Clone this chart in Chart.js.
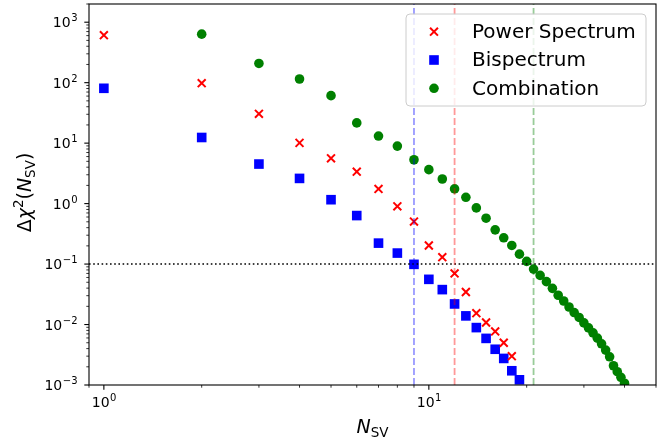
<!DOCTYPE html>
<html>
<head>
<meta charset="utf-8">
<title>Delta chi^2 vs N_SV</title>
<script src="https://cdn.jsdelivr.net/npm/chart.js"></script>
<style>
  html, body { margin: 0; padding: 0; background: #fff; }
  #wrap { width: 660px; height: 440px; }
</style>
</head>
<body>
<div id="wrap"><canvas id="chiChart" width="660" height="440"></canvas></div>
<script>
// number of singular values kept, and delta chi^2 for each probe
const nPower = [1, 2, 3, 4, 5, 6, 7, 8, 9, 10, 11, 12, 13, 14, 15, 16, 17, 18];
const chiPower = [611, 98, 30.5, 10.1, 5.6, 3.37, 1.75, 0.90, 0.505, 0.203, 0.130, 0.070,
                  0.0345, 0.0154, 0.0108, 0.0077, 0.0050, 0.0030];

const nBispec = [1, 2, 3, 4, 5, 6, 7, 8, 9, 10, 11, 12, 13, 14, 15, 16, 17, 18, 19];
const chiBispec = [80.7, 12.4, 4.51, 2.61, 1.16, 0.634, 0.222, 0.152, 0.099, 0.0559, 0.0378,
                   0.0219, 0.0139, 0.0089, 0.0059, 0.0039, 0.00275, 0.00172, 0.00122];

const nComb = [2, 3, 4, 5, 6, 7, 8, 9, 10, 11, 12, 13, 14, 15, 16, 17, 18, 19, 20, 21,
               22, 23, 24, 25, 26, 27, 28, 29, 30, 31, 32, 33, 34, 35, 36, 37, 38, 39, 40];
const chiComb = [634, 208, 115, 61, 21.6, 13.1, 8.93, 5.31, 3.64, 2.55, 1.75, 1.27, 0.849,
                 0.573, 0.368, 0.272, 0.203, 0.146, 0.111, 0.0825, 0.065, 0.0512, 0.0397,
                 0.0305, 0.0245, 0.0195, 0.0158, 0.0131, 0.01065, 0.0088, 0.00728, 0.00595,
                 0.0048, 0.00378, 0.00293, 0.00208, 0.00166, 0.00134, 0.00107];

// threshold and the N_SV where each probe drops below it
const threshold = 0.1;
const cutoffN = [9, 12, 21];
const cutoffColors = ['rgba(0,0,255,0.4)', 'rgba(255,0,0,0.4)', 'rgba(0,128,0,0.4)'];

const xLim = [0.9, 50];
const yLim = [1e-3, 2e3];
const xMajor = [1, 10];
const yMajor = [1e-3, 1e-2, 1e-1, 1, 10, 100, 1000];

const FONT = "'DejaVu Sans', 'Liberation Sans', sans-serif";

const pts = (xs, ys) => xs.map((x, i) => ({ x: x, y: ys[i] }));

// exponent text for a power of ten, with a real minus sign
const expText = v => String(Math.round(Math.log10(v))).replace('-', '\u2212');

const scatterSets = [
  { label: 'Power Spectrum', data: pts(nPower, chiPower), pointStyle: 'crossRot',
    pointRadius: 5.6, borderColor: '#ff0000', backgroundColor: '#ff0000', borderWidth: 2 },
  { label: 'Bispectrum', data: pts(nBispec, chiBispec), pointStyle: 'rect',
    pointRadius: 6.8, borderColor: '#0000ff', backgroundColor: '#0000ff', borderWidth: 0 },
  { label: 'Combination', data: pts(nComb, chiComb), pointStyle: 'circle',
    pointRadius: 4.8, borderColor: '#008000', backgroundColor: '#008000', borderWidth: 0 }
];
scatterSets.forEach(d => { d.order = 1; d.showLine = false; });

const refLines = cutoffN.map((n, i) => ({
  type: 'line', label: 'cut' + i, data: [{ x: n, y: yLim[0] }, { x: n, y: yLim[1] }],
  borderColor: cutoffColors[i], borderWidth: 1.8, borderDash: [7, 3],
  pointRadius: 0, fill: false, order: 0
}));
refLines.push({
  type: 'line', label: 'threshold', data: [{ x: xLim[0], y: threshold }, { x: xLim[1], y: threshold }],
  borderColor: '#000', borderWidth: 1.6, borderDash: [1.6, 2.6],
  pointRadius: 0, fill: false, order: 0
});

// minor tick values inside a log range
function minorTicks(lo, hi) {
  const out = [];
  for (let e = Math.floor(Math.log10(lo)); e <= Math.ceil(Math.log10(hi)); e++) {
    for (let m = 2; m <= 9; m++) {
      const v = m * Math.pow(10, e);
      if (v >= lo && v <= hi) out.push(v);
    }
  }
  return out;
}

function drawMarker(ctx, style, color, x, y) {
  ctx.save();
  ctx.fillStyle = color;
  ctx.strokeStyle = color;
  if (style === 'crossRot') {
    const o = 5.6 * Math.SQRT1_2;
    ctx.lineWidth = 2;
    ctx.beginPath();
    ctx.moveTo(x - o, y - o); ctx.lineTo(x + o, y + o);
    ctx.moveTo(x - o, y + o); ctx.lineTo(x + o, y - o);
    ctx.stroke();
  } else if (style === 'rect') {
    const s = 6.8 * Math.SQRT1_2;
    ctx.fillRect(x - s, y - s, 2 * s, 2 * s);
  } else {
    ctx.beginPath();
    ctx.arc(x, y, 4.8, 0, Math.PI * 2);
    ctx.fill();
  }
  ctx.restore();
}

const TICK_FONT = '14px ' + FONT, EXP_FONT = '10px ' + FONT;

// draws "10" with a raised exponent; align is 'right' or 'center' around x
function drawPow(ctx, v, x, baseY, align) {
  ctx.font = TICK_FONT; const wb = ctx.measureText('10').width;
  const e = expText(v);
  ctx.font = EXP_FONT; const we = ctx.measureText(e).width;
  const start = align === 'right' ? x - wb - we : x - (wb + we) / 2;
  ctx.font = TICK_FONT; ctx.fillText('10', start, baseY);
  ctx.font = EXP_FONT; ctx.fillText(e, start + wb + 0.5, baseY - 6);
}

// frame, tick marks, tick labels and axis titles
const axesDecor = {
  id: 'axesDecor',
  afterDatasetsDraw(chart) {
    const { ctx, chartArea: a, scales } = chart;
    const xs = scales.x, ys = scales.y;
    ctx.save();
    ctx.strokeStyle = '#000';

    ctx.lineWidth = 1.1;
    xMajor.forEach(v => {
      const px = xs.getPixelForValue(v);
      ctx.beginPath(); ctx.moveTo(px, a.bottom); ctx.lineTo(px, a.bottom + 4.7); ctx.stroke();
    });
    yMajor.forEach(v => {
      const py = ys.getPixelForValue(v);
      ctx.beginPath(); ctx.moveTo(a.left, py); ctx.lineTo(a.left - 4.7, py); ctx.stroke();
    });
    ctx.lineWidth = 0.8;
    minorTicks(xLim[0], xLim[1]).forEach(v => {
      const px = xs.getPixelForValue(v);
      ctx.beginPath(); ctx.moveTo(px, a.bottom); ctx.lineTo(px, a.bottom + 2.7); ctx.stroke();
    });
    minorTicks(yLim[0], yLim[1]).forEach(v => {
      const py = ys.getPixelForValue(v);
      ctx.beginPath(); ctx.moveTo(a.left, py); ctx.lineTo(a.left - 2.7, py); ctx.stroke();
    });

    ctx.lineWidth = 1.1;
    ctx.strokeRect(a.left, a.top, a.right - a.left, a.bottom - a.top);

    ctx.fillStyle = '#000';
    ctx.textBaseline = 'alphabetic';
    ctx.textAlign = 'left';

    // tick labels
    yMajor.forEach(v => drawPow(ctx, v, a.left - 12, ys.getPixelForValue(v) + 5, 'right'));
    xMajor.forEach(v => drawPow(ctx, v, xs.getPixelForValue(v), a.bottom + 21.5, 'center'));

    // x title: N_SV
    const big = '19px ' + FONT, bigIt = 'italic 19px ' + FONT, small = '13.5px ' + FONT;
    ctx.font = bigIt; const wN = ctx.measureText('N').width;
    ctx.font = small; const wSV = ctx.measureText('SV').width;
    let x0 = (a.left + a.right) / 2 - (wN + wSV) / 2;
    const by = 433;
    ctx.font = bigIt; ctx.fillText('N', x0, by);
    ctx.font = small; ctx.fillText('SV', x0 + wN, by + 4);

    // y title: delta chi^2 (N_SV), rotated
    const parts = [
      { t: '\u0394', f: big, dy: 0 },
      { t: '\u03C7', f: bigIt, dy: 0 },
      { t: '2', f: small, dy: -8 },
      { t: '(', f: big, dy: 0 },
      { t: 'N', f: bigIt, dy: 0 },
      { t: 'SV', f: small, dy: 4 },
      { t: ')', f: big, dy: 0 }
    ];
    let total = 0;
    parts.forEach(p => { ctx.font = p.f; p.w = ctx.measureText(p.t).width; total += p.w; });
    ctx.translate(31, (a.top + a.bottom) / 2 - 2);
    ctx.rotate(-Math.PI / 2);
    let cx = -total / 2;
    parts.forEach(p => { ctx.font = p.f; ctx.fillText(p.t, cx, p.dy); cx += p.w; });
    ctx.restore();
  },
  afterDraw(chart) {
    // legend box in the upper right corner
    const { ctx, chartArea: a } = chart;
    const bx = a.right - 10, by = a.top + 10, bw = 240, bh = 92, r = 4;
    const left = bx - bw;
    ctx.save();
    ctx.beginPath();
    ctx.moveTo(left + r, by);
    ctx.arcTo(bx, by, bx, by + bh, r);
    ctx.arcTo(bx, by + bh, left, by + bh, r);
    ctx.arcTo(left, by + bh, left, by, r);
    ctx.arcTo(left, by, bx, by, r);
    ctx.closePath();
    ctx.fillStyle = 'rgba(255,255,255,0.8)';
    ctx.fill();
    ctx.strokeStyle = '#cccccc';
    ctx.lineWidth = 1;
    ctx.stroke();

    ctx.font = '20px ' + FONT;
    ctx.textBaseline = 'middle';
    ctx.fillStyle = '#000';
    scatterSets.forEach((d, i) => {
      const ry = by + 17.7 + i * 28.3;
      drawMarker(ctx, d.pointStyle, d.backgroundColor, left + 28, ry);
      ctx.fillText(d.label, left + 66, ry + 1);
    });
    ctx.restore();
  }
};

// keep the plot box fixed: no extra room for overhanging tick labels
const noPad = s => { s.paddingTop = 0; s.paddingBottom = 0; s.paddingLeft = 0; s.paddingRight = 0; };

const ctx = document.getElementById('chiChart').getContext('2d');
const chart = new Chart(ctx, {
  type: 'scatter',
  data: { datasets: [...refLines, ...scatterSets] },
  options: {
    responsive: false,
    animation: false,
    events: [],
    layout: { autoPadding: false, padding: { top: 4, right: 4, left: 0, bottom: 0 } },
    plugins: {
      legend: { display: false },
      tooltip: { enabled: false }
    },
    scales: {
      x: {
        type: 'logarithmic',
        min: xLim[0],
        max: xLim[1],
        afterFit: s => { s.height = 55; noPad(s); },
        afterBuildTicks: s => { s.ticks = xMajor.map(v => ({ value: v })); },
        grid: { display: false, drawTicks: false },
        border: { display: false },
        ticks: { display: false }
      },
      y: {
        type: 'logarithmic',
        min: yLim[0],
        max: yLim[1],
        afterFit: s => { s.width = 89; noPad(s); },
        afterBuildTicks: s => { s.ticks = yMajor.map(v => ({ value: v })); },
        grid: { display: false, drawTicks: false },
        border: { display: false },
        ticks: { display: false }
      }
    }
  },
  plugins: [axesDecor]
});
</script>
</body>
</html>
